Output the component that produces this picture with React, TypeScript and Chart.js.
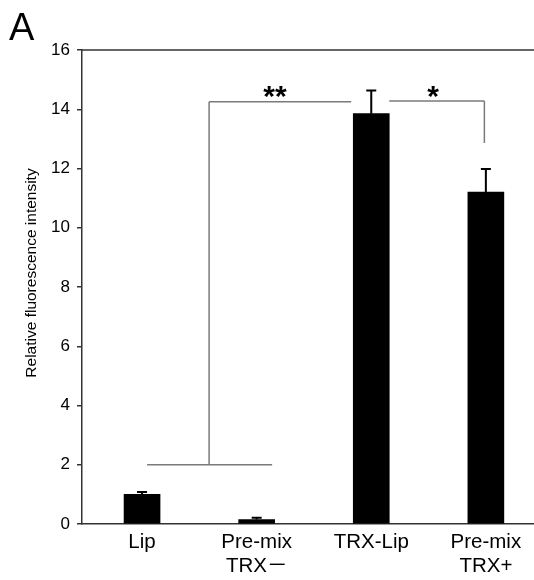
import { useEffect, useRef } from "react";
import { Chart, registerables } from "chart.js";

Chart.register(...registerables);

const FONT = "'Liberation Sans', Arial, 'Noto Sans CJK JP', sans-serif";

const categories: string[][] = [["Lip"], ["Pre-mix", "TRX－"], ["TRX-Lip"], ["Pre-mix", "TRX+"]];
const means = [1.0, 0.15, 13.85, 11.2];
const errors = [0.08, 0.06, 0.78, 0.78];
const yTickValues = [0, 2, 4, 6, 8, 10, 12, 14, 16];

// significance bracket segments in data coordinates: [x1, y1, x2, y2]
const bracketSegments: number[][] = [
  [0.044, 2.0, 1.135, 2.0],
  [0.585, 2.0, 0.585, 14.25],
  [0.585, 14.25, 1.825, 14.25],
  [2.157, 14.28, 2.987, 14.28],
  [2.987, 14.28, 2.987, 12.86],
];
const starLabels = [
  { text: "**", x: 1.16, y: 14.57 },
  { text: "*", x: 2.54, y: 14.58 },
];
const panelLabel = "A";
const yTitle = "Relative fluorescence intensity";

const overlay = {
  id: "overlay",
  afterDraw(chart: any) {
    const ctx = chart.ctx as CanvasRenderingContext2D;
    const xs = chart.scales.x;
    const ys = chart.scales.y;
    const area = chart.chartArea;
    ctx.save();
    // top border line
    ctx.strokeStyle = "#333";
    ctx.lineWidth = 1.5;
    ctx.beginPath();
    const yt = ys.getPixelForValue(16);
    ctx.moveTo(area.left, yt);
    ctx.lineTo(area.right, yt);
    ctx.stroke();

    // error bars
    ctx.strokeStyle = "#000";
    ctx.lineWidth = 2;
    means.forEach((m, i) => {
      const px = xs.getPixelForValue(i);
      const y0 = ys.getPixelForValue(m);
      const y1 = ys.getPixelForValue(m + errors[i]);
      ctx.beginPath();
      ctx.moveTo(px, y0);
      ctx.lineTo(px, y1);
      ctx.moveTo(px - 5, y1);
      ctx.lineTo(px + 5, y1);
      ctx.stroke();
    });

    // brackets
    ctx.strokeStyle = "#7a7a7a";
    ctx.lineWidth = 1.5;
    bracketSegments.forEach(([x1, y1, x2, y2]) => {
      ctx.beginPath();
      ctx.moveTo(xs.getPixelForValue(x1), ys.getPixelForValue(y1));
      ctx.lineTo(xs.getPixelForValue(x2), ys.getPixelForValue(y2));
      ctx.stroke();
    });

    // stars
    ctx.fillStyle = "#000";
    ctx.font = `bold 30px ${FONT}`;
    ctx.textAlign = "center";
    ctx.textBaseline = "alphabetic";
    starLabels.forEach((s) => {
      const m = ctx.measureText(s.text);
      const cy = ys.getPixelForValue(s.y);
      const base = cy + (m.actualBoundingBoxAscent - m.actualBoundingBoxDescent) / 2;
      ctx.fillText(s.text, xs.getPixelForValue(s.x), base);
    });

    // panel label
    ctx.font = `38px ${FONT}`;
    ctx.textAlign = "left";
    ctx.fillText(panelLabel, 9, 40);

    // y title
    ctx.font = `15.5px ${FONT}`;
    ctx.textAlign = "center";
    ctx.textBaseline = "middle";
    ctx.translate(32, 273);
    ctx.rotate(-Math.PI / 2);
    ctx.fillText(yTitle, 0, 0);
    ctx.restore();
  },
};

export default function App() {
  const ref = useRef<HTMLCanvasElement>(null);
  useEffect(() => {
    document.body.style.margin = "0";
    document.body.style.overflow = "hidden";
    const canvas = ref.current!;
    const chart = new Chart(canvas, {
      type: "bar",
      data: {
        datasets: [
          {
            data: means.map((v, i) => ({ x: i, y: v })),
            backgroundColor: "#000",
            borderWidth: 0,
            barThickness: 36,
          },
        ],
      },
      options: {
        animation: false,
        responsive: false,
        devicePixelRatio: 1,
        layout: { padding: { top: 50, left: 0, right: 0, bottom: 0 } },
        plugins: { legend: { display: false }, tooltip: { enabled: false } },
        scales: {
          x: {
            type: "linear",
            offset: false,
            min: -0.524,
            max: 3.42,
            grid: { display: false, drawTicks: false, offset: false },
            border: { display: true, color: "#333", width: 1.5 },
            afterBuildTicks: (scale: any) => {
              scale.ticks = categories.map((_, i) => ({ value: i }));
            },
            afterFit: (scale: any) => {
              scale.height = 56;
              scale.paddingLeft = 0;
              scale.paddingRight = 0;
            },
            ticks: {
              autoSkip: false,
              maxRotation: 0,
              padding: 6,
              color: "#000",
              font: { family: FONT, size: 20.5, lineHeight: 1.17 },
              callback: (v: any) => categories[Math.round(Number(v))] ?? "",
            },
          },
          y: {
            min: 0,
            max: 16,
            afterBuildTicks: (scale: any) => {
              scale.ticks = yTickValues.map((v) => ({ value: v }));
            },
            afterFit: (scale: any) => {
              scale.width = 82;
            },
            grid: { drawOnChartArea: false, drawTicks: true, tickLength: 5, color: "#333", lineWidth: 1.5 },
            border: { display: true, color: "#333", width: 1.5 },
            ticks: {
              padding: 7,
              color: "#000",
              font: { family: FONT, size: 17 },
            },
          },
        },
      },
      plugins: [overlay],
    });
    return () => chart.destroy();
  }, []);
  return <canvas ref={ref} width={534} height={580} style={{ display: "block", width: 534, height: 580 }} />;
}
